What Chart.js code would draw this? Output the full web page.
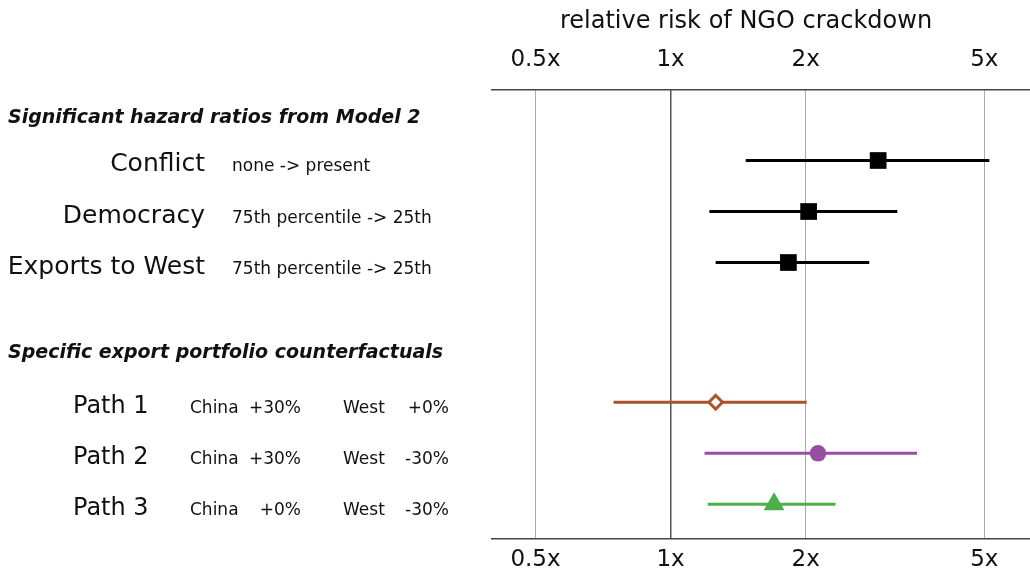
<!DOCTYPE html>
<html><head><meta charset="utf-8">
<script src="https://cdn.jsdelivr.net/npm/chart.js@4"></script>
<style>html,body{margin:0;padding:0;background:#fff}#wrap{width:1030px;height:582px;position:relative}</style>
</head><body><div id="wrap"><canvas id="c"></canvas></div>
<script>
// ---- data ----
const tickValues = [0.5, 1, 2, 5];
const tickLabels = ['0.5x', '1x', '2x', '5x'];
const axisTitle = 'relative risk of NGO crackdown';
const groupHeaders = ['Significant hazard ratios from Model 2', 'Specific export portfolio counterfactuals'];
const modelNames = ['Conflict', 'Democracy', 'Exports to West'];
const modelChanges = ['none -> present', '75th percentile -> 25th', '75th percentile -> 25th'];
const modelEst = [2.90, 2.03, 1.83];
const modelLow = [1.47, 1.22, 1.26];
const modelHigh = [5.13, 3.20, 2.77];
const pathNames = ['Path 1', 'Path 2', 'Path 3'];
const pathChinaLabel = 'China';
const pathWestLabel = 'West';
const pathChina = ['+30%', '+30%', '+0%'];
const pathWest = ['+0%', '-30%', '-30%'];
const pathEst = [1.26, 2.13, 1.70];
const pathLow = [0.746, 1.19, 1.21];
const pathHigh = [2.01, 3.54, 2.33];

// ---- layout (row slots on the vertical scale) ----
const modelRowPos = [1, 2, 3];
const pathRowPos = [5.74, 6.74, 7.74];
const headerPos = [0.265, 4.878];
const pathColors = ['#a65628', '#984ea3', '#4daf4a'];
const FONT = '"DejaVu Sans", sans-serif';
const X_MIN = 0.4, X_MAX = 6.32;

const datasets = [];
// points (drawn on top)
datasets.push({
  type: 'scatter', order: 0,
  data: modelEst.map((v, i) => ({x: v, y: modelRowPos[i]})),
  pointStyle: 'rect', pointRadius: 11.8, backgroundColor: '#000', borderColor: '#000', borderWidth: 0
});
datasets.push({
  type: 'scatter', order: 0,
  data: [{x: pathEst[0], y: pathRowPos[0]}],
  pointStyle: 'rectRot', pointRadius: 6.8, backgroundColor: '#fff', borderColor: pathColors[0], borderWidth: 3
});
datasets.push({
  type: 'scatter', order: 0,
  data: [{x: pathEst[1], y: pathRowPos[1]}],
  pointStyle: 'circle', pointRadius: 8.3, backgroundColor: pathColors[1], borderColor: pathColors[1], borderWidth: 0
});
datasets.push({
  type: 'scatter', order: 0,
  data: [{x: pathEst[2], y: pathRowPos[2]}],
  pointStyle: 'triangle', pointRadius: 12, backgroundColor: pathColors[2], borderColor: pathColors[2], borderWidth: 0
});
// intervals
modelNames.forEach((n, i) => datasets.push({
  type: 'line', order: 1, showLine: true, pointRadius: 0, borderWidth: 3, borderColor: '#000',
  data: [{x: modelLow[i], y: modelRowPos[i]}, {x: modelHigh[i], y: modelRowPos[i]}]
}));
pathNames.forEach((n, i) => datasets.push({
  type: 'line', order: 1, showLine: true, pointRadius: 0, borderWidth: 3, borderColor: pathColors[i],
  data: [{x: pathLow[i], y: pathRowPos[i]}, {x: pathHigh[i], y: pathRowPos[i]}]
}));

const labelPlugin = {
  id: 'rowLabels',
  afterDraw(chart) {
    const ctx = chart.ctx, ys = chart.scales.y, ca = chart.chartArea;
    ctx.save();
    ctx.fillStyle = '#111';
    ctx.textBaseline = 'alphabetic';
    ctx.font = '24px ' + FONT;
    ctx.textAlign = 'center';
    ctx.fillText(axisTitle, (ca.left + ca.right) / 2 - 15, 28);
    ctx.textAlign = 'left';
    ctx.font = 'italic bold 19px ' + FONT;
    groupHeaders.forEach((h, i) => ctx.fillText(h, 8, ys.getPixelForValue(headerPos[i])));
    modelNames.forEach((n, i) => {
      const b = ys.getPixelForValue(modelRowPos[i]) + 11;
      ctx.font = '25px ' + FONT; ctx.textAlign = 'right'; ctx.fillText(n, 205, b);
      ctx.font = '17px ' + FONT; ctx.textAlign = 'left'; ctx.fillText(modelChanges[i], 232, b);
    });
    pathNames.forEach((n, i) => {
      const b = ys.getPixelForValue(pathRowPos[i]) + 11;
      ctx.font = '24px ' + FONT; ctx.textAlign = 'left'; ctx.fillText(n, 73, b);
      ctx.font = '17px ' + FONT;
      ctx.fillText(pathChinaLabel, 190, b);
      ctx.fillText(pathWestLabel, 343, b);
      ctx.textAlign = 'right';
      ctx.fillText(pathChina[i], 301, b);
      ctx.fillText(pathWest[i], 449, b);
    });
    ctx.restore();
  }
};

function xAxis(pos, h, pad, grid) {
  return {
    type: 'logarithmic', position: pos, min: X_MIN, max: X_MAX, bounds: 'data',
    afterBuildTicks: s => { s.ticks = tickValues.map(v => ({value: v})); s.min = X_MIN; s.max = X_MAX; },
    afterFit: s => { s.height = h; s.paddingLeft = 0; s.paddingRight = 0; },
    ticks: {
      autoSkip: false, maxRotation: 0, padding: pad, color: '#111',
      font: {family: FONT, size: 23},
      callback: v => tickLabels[tickValues.indexOf(v)]
    },
    grid: grid ? {
      drawTicks: false,
      color: c => (c.tick && c.tick.value === 1) ? '#555' : '#aaa',
      lineWidth: c => (c.tick && c.tick.value === 1) ? 1.5 : 1
    } : {display: false, drawTicks: false},
    border: {display: true, color: '#444', width: 1.5}
  };
}

new Chart(document.getElementById('c'), {
  type: 'scatter',
  data: {datasets},
  options: {
    responsive: true, maintainAspectRatio: false, animation: false, events: [],
    layout: {autoPadding: false, padding: {left: 492, right: 0, top: 0, bottom: 0}},
    plugins: {legend: {display: false}, tooltip: {enabled: false}, title: {display: false}},
    scales: {
      x: xAxis('bottom', 43, 7, true),
      x2: xAxis('top', 90, 16, false),
      y: {type: 'linear', display: false, min: -0.382, max: 8.42, reverse: true}
    }
  },
  plugins: [labelPlugin]
});
</script></body></html>
